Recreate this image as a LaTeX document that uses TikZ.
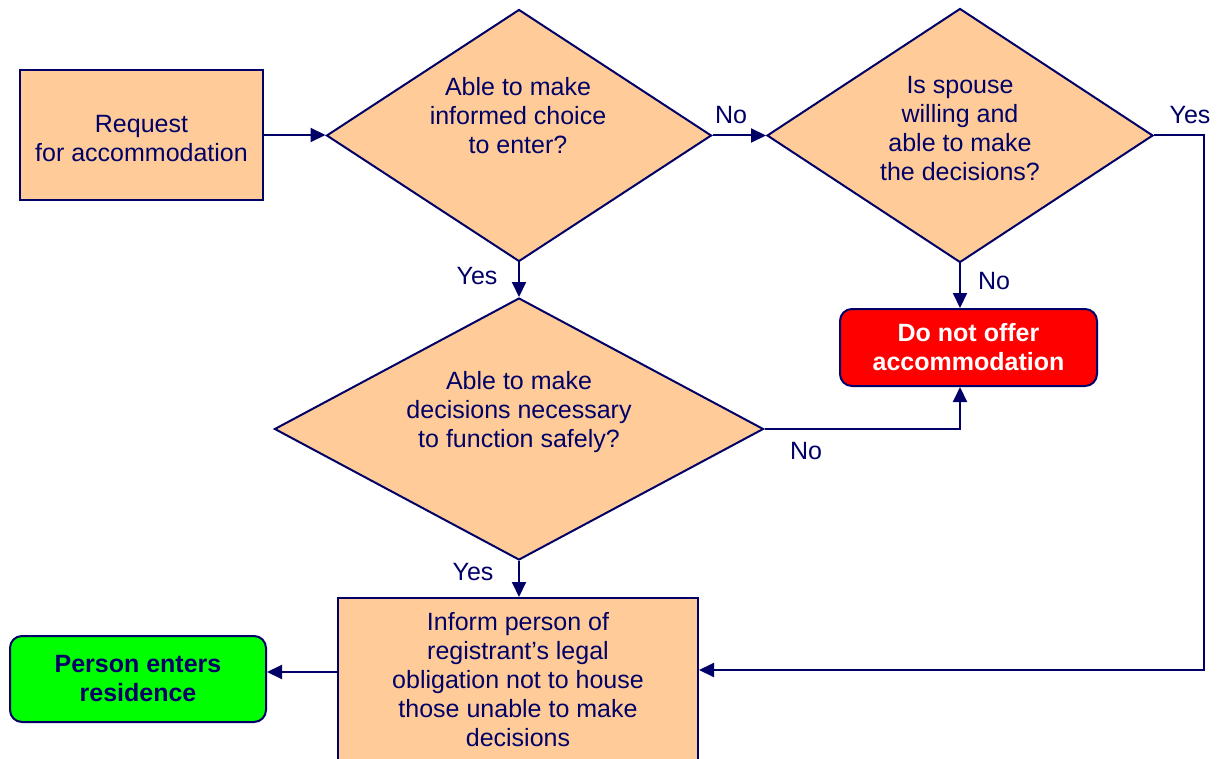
\documentclass[tikz,border=0pt]{standalone}
\usepackage{fontspec}
\setmainfont{Liberation Sans}
\usetikzlibrary{arrows.meta,shapes.geometric,calc}
\definecolor{navy}{HTML}{000066}
\definecolor{peach}{HTML}{FFCC99}
\definecolor{redbox}{HTML}{FF0000}
\definecolor{greenbox}{HTML}{00FF00}
\begin{document}
\begin{tikzpicture}[x=0.5pt,y=-0.5pt,
  font=\fontsize{12.5}{14.5}\selectfont, text=navy,
  box/.style={draw=navy, line width=1pt, fill=peach, inner sep=0pt, align=center},
  dia/.style={draw=navy, line width=1pt, fill=peach, shape=diamond, inner sep=0pt},
  dtext/.style={align=center, inner sep=0pt},
  conn/.style={draw=navy, line width=1pt, -{Triangle[length=7.5pt,width=7pt]}},
  lbl/.style={inner sep=0pt}]
\useasboundingbox (0,0) rectangle (1220,759);
\clip (0,0) rectangle (1220,759);

% boxes
\node[box, minimum width=121.5pt, minimum height=65pt] (req) at (141.5,135) {};
\node[dtext] (rt) at (141.5,139) {Request\\for accommodation};
\node[dia, minimum width=192.5pt, minimum height=126pt] (d1) at (519,135.5) {};
\node[dtext] (t1) at (518,116) {Able to make\\informed choice\\to enter?};
\node[dia, minimum width=193pt, minimum height=127pt] (d2) at (960,135.5) {};
\node[dtext] (t2) at (960,129) {Is spouse\\willing and\\able to make\\the decisions?};
\node[dia, minimum width=244.5pt, minimum height=131pt] (d3) at (519,429) {};
\node[dtext] (t3) at (519,412) {Able to make\\decisions necessary\\to function safely?};
\node[draw=navy, line width=1pt, fill=redbox, rounded corners=6pt, minimum width=128.5pt, minimum height=38.5pt,
      inner sep=0pt, align=center, text=white, font=\fontsize{12.5}{14.5}\selectfont\bfseries] (red) at (968.5,347.5) {Do not offer\\accommodation};
\node[draw=navy, line width=1pt, fill=greenbox, rounded corners=6pt, minimum width=128pt, minimum height=43pt,
      inner sep=0pt, align=center, font=\fontsize{12.5}{14.5}\selectfont\bfseries] (green) at (138,679) {Person enters\\residence};
\node[box, minimum width=180pt, minimum height=82pt] (inform) at (518,680)
  {Inform person of\\registrant’s legal\\obligation not to house\\those unable to make\\decisions};

% connectors
\draw[conn] (req.east) -- (req.east -| d1.west);
\draw[conn] (d1.east) -- (d2.west);
\draw[conn] (d1.south) -- (d3.north);
\draw[conn] (d2.south) -- (d2.south |- red.north);
\draw[conn] (d2.east) -- ++(50,0) |- ([yshift=5pt]inform.east);
\draw[conn] (d3.east) -| (d2.south |- red.south);
\draw[conn] (d3.south) -- (d3.south |- inform.north);
\coordinate (iw) at ([yshift=4pt]inform.west);
\draw[conn] (iw) -- (iw -| green.east);

% labels
\node[lbl] (l1) at (731,115) {No};
\node[lbl] (l2) at (477,276) {Yes};
\node[lbl] (l3) at (994,281) {No};
\node[lbl] (l4) at (1190,115) {Yes};
\node[lbl] (l5) at (806,451) {No};
\node[lbl] (l6) at (473,572) {Yes};
\end{tikzpicture}
\end{document}
